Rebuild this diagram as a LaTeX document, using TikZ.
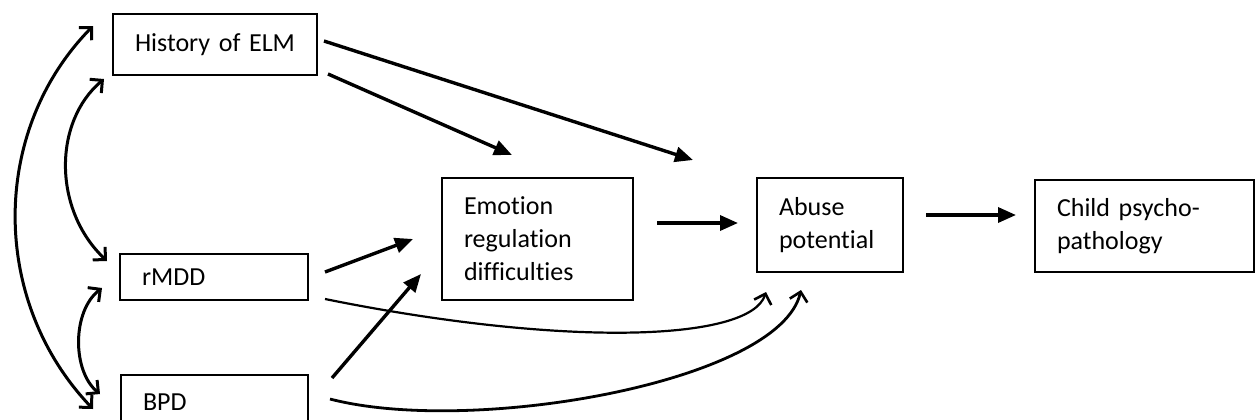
\documentclass[tikz,border=0pt]{standalone}
\usepackage{fontspec}
\setmainfont{Carlito}[Ligatures=NoCommon]
\usetikzlibrary{arrows.meta,calc}
\tikzset{
  box/.style={draw, line width=1pt, rectangle, anchor=north west, inner xsep=11pt, inner ysep=0pt,
    align=left, font=\fontsize{13}{16.5}\selectfont},
  path1/.style={line width=1.7pt, -{Triangle[length=9pt,width=7.5pt]}},
  curve2/.style={line width=1.5pt, {Straight Barb[length=4.5pt,width=9pt,line width=1.5pt]}-{Straight Barb[length=4.5pt,width=9pt,line width=1.5pt]}},
  curve1/.style={line width=1.1pt, -{Straight Barb[length=4.5pt,width=9pt,line width=1.3pt]}}
}
\begin{document}
\begin{tikzpicture}[x=0.5pt,y=-0.5pt]
\useasboundingbox (0,0) rectangle (1255,419);
\node[box, text width=80pt, minimum height=30.5pt] (hist) at (112,13) {\mbox{History of ELM}};
\node[box, text width=72pt, minimum height=23pt] (rmdd) at (119,253) {rMDD};
\node[box, text width=71.5pt, minimum height=27pt] (bpd) at (120,374) {BPD};
\node[box, text width=73.5pt, minimum height=61pt] (erd) at (441,177) {Emotion\\regulation\\difficulties};
\node[box, text width=51pt, minimum height=47pt] (abuse) at (756,177) {Abuse\\potential};
\node[box, text width=87.5pt, minimum height=46pt] (child) at (1034,179) {Child psycho-\\pathology};

% straight arrows
\draw[path1] ($(hist.south east)+(10,-2)$) -- ($(erd.north)+(-25.5,-22)$);
\draw[path1] ($(hist.east)+(6,-3.5)$) -- ($(abuse.north west)+(-63,-17)$);
\draw[path1] ($(rmdd.east)+(16,-5)$) -- ($(erd.west)+(-28,0)$);
\draw[path1] ($(bpd.north east)+(23,4)$) -- ($(erd.south west)+(-20,-27)$);
\draw[path1] ($(erd.east)+(23,-16)$) -- ($(abuse.west)+(-18,-2)$);
\draw[path1] ($(abuse.east)+(22,-10)$) -- ($(child.west)+(-18,-11)$);

% curved arrows to abuse potential
\draw[curve1] ($(rmdd.south east)+(16,-2)$) .. controls +(237,48) and +(-16,50) .. ($(abuse.south west)+(10,19)$);
\draw[curve1, line width=1.4pt] ($(bpd.east)+(21,-3)$) .. controls +(142,37) and +(-21,92) .. ($(abuse.south west)+(45,17)$);

% correlations
\draw[curve2] ($(hist.west)+(-19,-18.5)$) .. controls +(-103,105) and +(-103,-108) .. ($(bpd.west)+(-27,7)$);
\draw[curve2] ($(hist.south west)+(-8,3)$) .. controls +(-51,43) and +(-54,-51) .. ($(rmdd.north west)+(-12,8)$);
\draw[curve2] ($(rmdd.west)+(-17,11)$) .. controls +(-30,23) and +(-28,-23) .. ($(bpd.west)+(-20,-8)$);
\end{tikzpicture}
\end{document}
